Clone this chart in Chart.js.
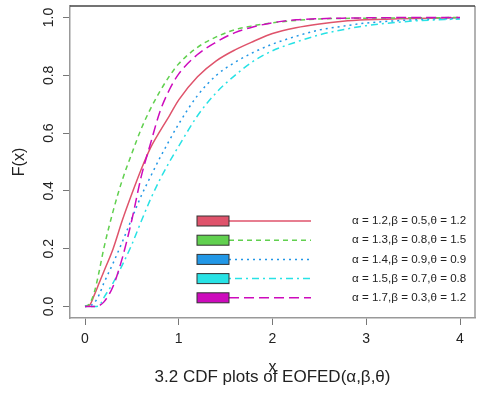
<!DOCTYPE html>
<html>
<head>
<meta charset="utf-8">
<script src="https://cdn.jsdelivr.net/npm/chart.js@4.4.1/dist/chart.umd.min.js"></script>
<style>
body { margin: 0; background: #fff; }
#wrap { width: 477px; height: 394px; }
</style>
</head>
<body>
<div id="wrap"><canvas id="cdf-chart"></canvas></div>
<script>
// values
var xValues = [0, 0.05, 0.1, 0.15, 0.2, 0.3, 0.4, 0.5, 0.6, 0.7, 0.8, 0.9, 1.0, 1.2, 1.4, 1.6, 1.8, 2.0, 2.25, 2.5, 2.75, 3.0, 3.5, 4.0];
var cdfA = [0, 0.005, 0.04, 0.08, 0.12, 0.20, 0.30, 0.39, 0.475, 0.55, 0.607, 0.66, 0.715, 0.795, 0.85, 0.888, 0.918, 0.945, 0.965, 0.978, 0.987, 0.992, 0.997, 0.999];
var cdfB = [0, 0.01, 0.05, 0.12, 0.20, 0.33, 0.44, 0.53, 0.615, 0.685, 0.745, 0.797, 0.84, 0.897, 0.933, 0.958, 0.972, 0.982, 0.99, 0.995, 0.997, 0.998, 0.999, 1.0];
var cdfC = [0, 0.002, 0.013, 0.04, 0.08, 0.15, 0.225, 0.305, 0.383, 0.45, 0.515, 0.575, 0.632, 0.73, 0.80, 0.845, 0.88, 0.908, 0.935, 0.957, 0.970, 0.981, 0.992, 0.997];
var cdfD = [0, 0, 0, 0.002, 0.03, 0.082, 0.145, 0.215, 0.295, 0.372, 0.44, 0.50, 0.555, 0.66, 0.74, 0.80, 0.85, 0.885, 0.915, 0.94, 0.958, 0.972, 0.988, 0.995];
var cdfE = [0, 0, 0, 0.003, 0.015, 0.07, 0.17, 0.30, 0.45, 0.565, 0.675, 0.75, 0.805, 0.872, 0.915, 0.948, 0.968, 0.982, 0.992, 0.996, 0.998, 0.999, 1.0, 1.0];
var seriesLabels = [
    '\u03B1 = 1.2,\u03B2 = 0.5,\u03B8 = 1.2',
    '\u03B1 = 1.3,\u03B2 = 0.8,\u03B8 = 1.5',
    '\u03B1 = 1.4,\u03B2 = 0.9,\u03B8 = 0.9',
    '\u03B1 = 1.5,\u03B2 = 0.7,\u03B8 = 0.8',
    '\u03B1 = 1.7,\u03B2 = 0.3,\u03B8 = 1.2'
];
var xTicks = [0, 1, 2, 3, 4];
var yTicks = [0, 0.2, 0.4, 0.6, 0.8, 1.0];
var caption = '3.2 CDF plots of EOFED(\u03B1,\u03B2,\u03B8)';

var colors = ['#DF536B', '#61D04F', '#2297E6', '#28E2E5', '#CD0BBC'];
var dashes = [[], [5, 4], [2, 4], [2, 4, 7, 4], [10, 5]];
var allSeries = [cdfA, cdfB, cdfC, cdfD, cdfE];
var FONT = '"Liberation Sans", Arial, sans-serif';

function pts(ys) {
    return xValues.map(function (x, i) { return { x: x, y: ys[i] }; });
}

var datasets = allSeries.map(function (s, i) {
    return {
        label: seriesLabels[i],
        data: pts(s),
        borderColor: colors[i],
        backgroundColor: colors[i],
        borderWidth: 1.5,
        borderDash: dashes[i],
        pointRadius: 0,
        cubicInterpolationMode: 'monotone',
        fill: false,
        order: 5 - i
    };
});

// R-style box, legend and caption
var extras = {
    id: 'extras',
    afterDatasetsDraw: function (chart) {
        var ctx = chart.ctx, a = chart.chartArea;
        ctx.save();
        ctx.lineWidth = 1.5;
        ctx.strokeStyle = '#999';
        ctx.beginPath();
        ctx.moveTo(a.right, a.top); ctx.lineTo(a.right, a.bottom);
        ctx.stroke();
        ctx.strokeStyle = '#444';
        ctx.beginPath();
        ctx.moveTo(a.left, a.top); ctx.lineTo(a.right, a.top);
        ctx.stroke();

        // legend
        var x0 = a.left + 127, y0 = a.top + 215, step = 19.2;
        ctx.font = '11.6px ' + FONT;
        ctx.textBaseline = 'middle';
        ctx.textAlign = 'left';
        chart.data.datasets.forEach(function (ds, i) {
            var y = y0 + i * step;
            ctx.setLineDash(ds.borderDash);
            ctx.strokeStyle = ds.borderColor;
            ctx.lineWidth = 1.5;
            ctx.beginPath();
            ctx.moveTo(x0 + 32, y); ctx.lineTo(x0 + 114, y);
            ctx.stroke();
            ctx.setLineDash([]);
            ctx.fillStyle = ds.backgroundColor;
            ctx.fillRect(x0, y - 5, 32, 10);
            ctx.strokeStyle = '#333';
            ctx.lineWidth = 1;
            ctx.strokeRect(x0, y - 5, 32, 10);
            ctx.fillStyle = '#222';
            ctx.fillText(ds.label, x0 + 155, y);
        });

        ctx.font = '17px ' + FONT;
        ctx.textAlign = 'center';
        ctx.fillStyle = '#222';
        ctx.fillText(caption, (a.left + a.right) / 2, 377);
        ctx.restore();
    }
};

var ctx = document.getElementById('cdf-chart').getContext('2d');
var cdfChart = new Chart(ctx, {
    type: 'line',
    data: { datasets: datasets },
    options: {
        responsive: true,
        maintainAspectRatio: false,
        animation: false,
        layout: { padding: { top: 6, right: 2, left: 0, bottom: 0 } },
        plugins: {
            legend: { display: false },
            tooltip: { enabled: false }
        },
        scales: {
            x: {
                type: 'linear',
                min: -0.16,
                max: 4.16,
                afterBuildTicks: function (scale) {
                    scale.ticks = xTicks.map(function (v) { return { value: v }; });
                },
                afterFit: function (scale) {
                    scale.height = 76;
                    scale.paddingLeft = 0; scale.paddingRight = 0;
                },
                grid: { drawOnChartArea: false, drawTicks: true, tickLength: 7, color: '#777' },
                border: { display: true, color: '#999', width: 1.5 },
                ticks: { color: '#222', font: { size: 14, family: FONT }, padding: 6, maxRotation: 0 },
                title: { display: true, text: 'x', color: '#222', font: { size: 16, family: FONT }, padding: { bottom: 17 } }
            },
            y: {
                min: -0.04,
                max: 1.04,
                afterBuildTicks: function (scale) {
                    scale.ticks = yTicks.map(function (v) { return { value: v }; });
                },
                afterFit: function (scale) {
                    scale.width = 70;
                    scale.paddingTop = 0; scale.paddingBottom = 0;
                },
                grid: { drawOnChartArea: false, drawTicks: true, tickLength: 7, color: '#777' },
                border: { display: true, color: '#999', width: 1.5 },
                ticks: {
                    color: '#222', font: { size: 14, family: FONT }, padding: 4,
                    minRotation: 90, maxRotation: 90, crossAlign: 'center',
                    callback: function (v) { return v.toFixed(1); }
                },
                title: { display: true, text: 'F(x)', color: '#222', font: { size: 16, family: FONT }, padding: { top: 10 } }
            }
        }
    },
    plugins: [extras]
});
</script>
</body>
</html>
